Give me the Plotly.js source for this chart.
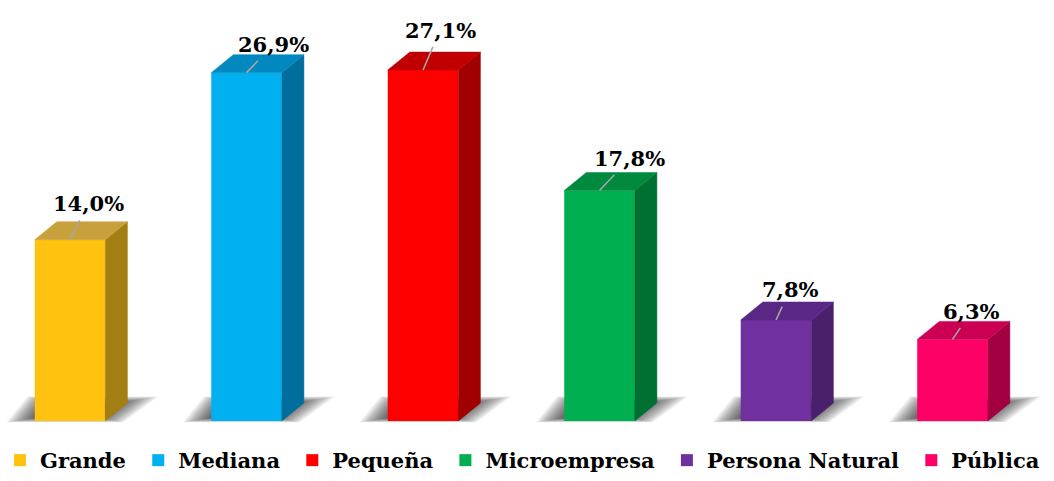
<!DOCTYPE html>
<html>
<head>
<meta charset="utf-8">
<script src="https://cdn.plot.ly/plotly-3.0.1.min.js"></script>
<style>html,body{margin:0;padding:0;background:#fff}#chart{width:1054px;height:481px}</style>
</head>
<body>
<div id="chart"></div>
<script>
// ---- data ----
const categories = ['Grande', 'Mediana', 'Pequeña', 'Microempresa', 'Persona Natural', 'Pública'];
const values = [14.0, 26.9, 27.1, 17.8, 7.8, 6.3];
const valueLabels = ['14,0%', '26,9%', '27,1%', '17,8%', '7,8%', '6,3%'];

// ---- styles ----
const frontColors = ['#FFC20E', '#00B0F0', '#FF0000', '#00B050', '#7030A0', '#FF0066'];
const topColors   = ['#C9A13C', '#0088BF', '#C00000', '#008A3E', '#5A2784', '#CC0052'];
const sideColors  = ['#A37E12', '#006E9C', '#A00000', '#006F32', '#4A1F6B', '#A30042'];
const labelDx = [18, 27, 17, 30, 14, 19];
const labelDy = [-36, -28, -40, -32, -30, -28];

const barHalf = 0.2;      // half of front width in category units
const depthX = 0.125;     // depth offset in category units
const depthY = 1.39;      // depth offset in value units
const FONT = 'DejaVu Serif, serif';
const NBSP = '\u00A0';

const traces = [];
const shapes = [];
const annotations = [];

// shadow outline relative to bar center (category units, value units)
const shadowPts = [[-0.36, -0.1], [0.3, -0.1], [0.5, 1.9], [-0.24, 1.9]];
const shadowCenter = [0.0, 0.7];

categories.forEach((cat, i) => {
  const v = values[i];
  // soft shadow: layered shrinking polygons
  for (let k = 0; k < 14; k++) {
    const s = 1 - k * 0.04;
    const pts = shadowPts.map(p => [
      i + shadowCenter[0] + (p[0] - shadowCenter[0]) * s,
      shadowCenter[1] + (p[1] - shadowCenter[1]) * s
    ]);
    const path = 'M' + pts.map(p => p[0].toFixed(4) + ',' + p[1].toFixed(4)).join('L') + 'Z';
    shapes.push({type: 'path', xref: 'x', yref: 'y', layer: 'below', path: path,
      fillcolor: 'rgba(0,0,0,0.075)', line: {width: 0}});
  }
  // front face
  traces.push({type: 'bar', x: [i], y: [v], width: 2 * barHalf, name: cat + NBSP,
    marker: {color: frontColors[i], line: {width: 0}}, hoverinfo: 'skip', showlegend: true});
  // side face
  traces.push({type: 'scatter', mode: 'lines', fill: 'toself', showlegend: false, hoverinfo: 'skip',
    x: [i + barHalf, i + barHalf + depthX, i + barHalf + depthX, i + barHalf, i + barHalf],
    y: [0, depthY, v + depthY, v, 0],
    fillcolor: sideColors[i], line: {width: 0.5, color: sideColors[i]}});
  // top face
  traces.push({type: 'scatter', mode: 'lines', fill: 'toself', showlegend: false, hoverinfo: 'skip',
    x: [i - barHalf, i + barHalf, i + barHalf + depthX, i - barHalf + depthX, i - barHalf],
    y: [v, v, v + depthY, v + depthY, v],
    fillcolor: topColors[i], line: {width: 0.5, color: topColors[i]}});
  // value label with leader line
  annotations.push({x: i, y: v, xref: 'x', yref: 'y', text: valueLabels[i],
    showarrow: true, arrowhead: 0, arrowwidth: 1.6, arrowcolor: '#A6A6A6',
    ax: labelDx[i], ay: labelDy[i], startstandoff: 3,
    font: {family: FONT, size: 21, color: '#000', weight: 'bold'}});
});

const layout = {
  width: 1054, height: 481,
  margin: {l: 0, r: 0, t: 0, b: 0, pad: 0},
  paper_bgcolor: '#fff', plot_bgcolor: '#fff',
  barmode: 'overlay',
  xaxis: {range: [-0.397, 5.575], showgrid: false, zeroline: false, showticklabels: false, showline: false, fixedrange: true, automargin: false},
  yaxis: {range: [-4.093, 32.51], showgrid: false, zeroline: false, showticklabels: false, showline: false, fixedrange: true, automargin: false},
  showlegend: true,
  legend: {orientation: 'h', x: 0, xanchor: 'left', y: -0.015, yanchor: 'bottom',
    bgcolor: 'rgba(0,0,0,0)',
    font: {family: FONT, size: 21, color: '#000', weight: 'bold'},
    itemclick: false, itemdoubleclick: false, traceorder: 'normal'},
  shapes: shapes,
  annotations: annotations
};

Plotly.newPlot('chart', traces, layout, {displayModeBar: false, staticPlot: true});
</script>
</body>
</html>
